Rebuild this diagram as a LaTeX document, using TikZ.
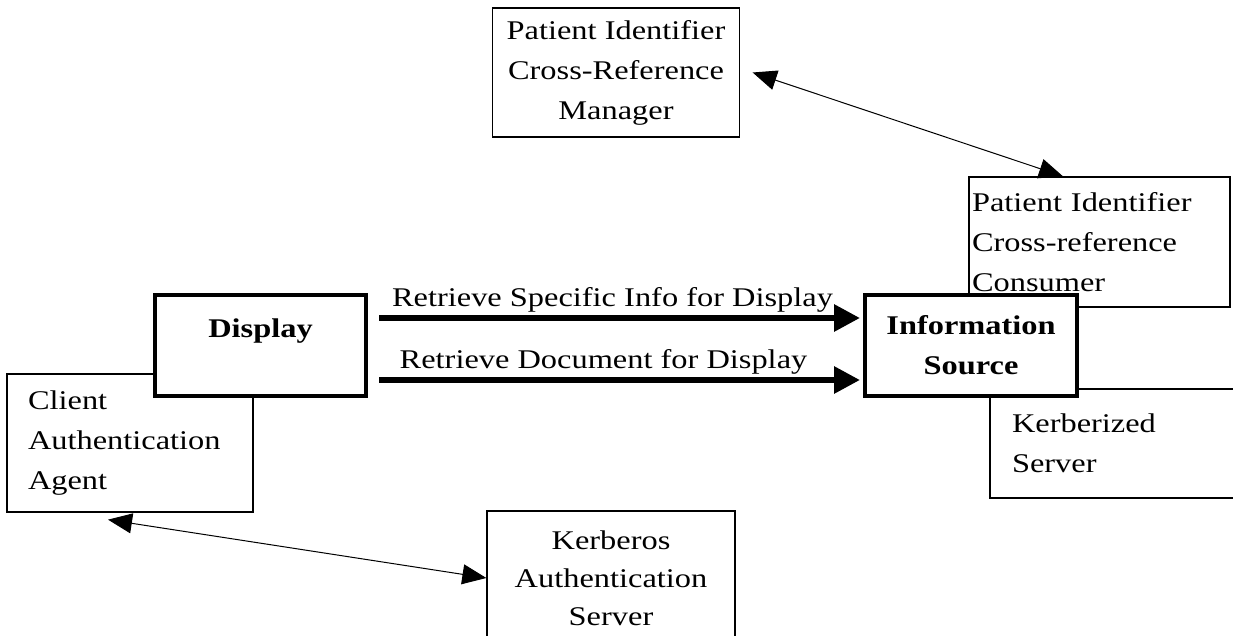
\documentclass[tikz,border=0pt]{standalone}
\usepackage{fontspec}
\setmainfont{Liberation Serif}[FakeStretch=1.2]
\usetikzlibrary{arrows.meta}

\begin{document}
\begin{tikzpicture}[
  x=1pt, y=-1pt,
  every node/.style={font=\fontsize{27}{40}\selectfont},
  box/.style={rectangle, draw=black, line width=1.3pt, fill=white,
              inner sep=0pt},
  cbox/.style={box, align=center},
  lbox/.style={box, align=left},
  mainbox/.style={box, line width=4pt, align=center,
                  font=\fontsize{27}{40}\selectfont\bfseries},
  msg/.style={-{Triangle[length=26pt,width=26pt]}, line width=6pt},
  link/.style={{Triangle[length=24pt,width=20pt]}-{Triangle[length=24pt,width=20pt]},
               line width=1pt},
  lbl/.style={above=3pt, inner sep=0pt},
]

\useasboundingbox (0,0) rectangle (1233,636);

%% ── Cross-reference actors (top) ──────────────────────
\node[cbox, minimum width=247, minimum height=129] (pixm) at (616,72.5)
  {Patient Identifier\\Cross-Reference\\Manager};
\node[lbox, minimum width=261, minimum height=130, text width=255pt] (pixc) at (1099.5,242)
  {Patient Identifier\\Cross-reference\\Consumer};

%% ── Side boxes (drawn first, main boxes sit on top) ───
\node[lbox, minimum width=246, minimum height=138, text width=204pt] (caa) at (130,443)
  {Client\\Authentication\\Agent};
\node[lbox, minimum width=250, minimum height=109, text width=206pt] (kzs) at (1115,443.5)
  {Kerberized\\Server};
\node[cbox, minimum width=248, minimum height=134,
      font=\fontsize{27}{38}\selectfont] (kas) at (611,578)
  {Kerberos\\Authentication\\Server};

%% ── Main actors ───────────────────────────────────────
\node[mainbox, minimum width=211, minimum height=101,
      text height=20pt, text depth=37pt] (disp) at (260.5,345.5) {Display};
\node[mainbox, minimum width=212, minimum height=101] (info) at (971,345.5)
  {Information\\Source};

%% ── Transactions ──────────────────────────────────────
\draw[msg] ([xshift=11pt,yshift=27.5pt]disp.east) -- ([xshift=-3pt,yshift=27.5pt]info.west)
  node[lbl, midway, xshift=-7pt] (rsi) {Retrieve Specific Info for Display};
\draw[msg] ([xshift=11pt,yshift=-34.5pt]disp.east) -- ([xshift=-3pt,yshift=-34.5pt]info.west)
  node[lbl, midway, xshift=-16pt] (rdd) {Retrieve Document for Display};

%% ── Grouped actor links ───────────────────────────────
\draw[link] ([xshift=12.5pt]pixm.east) -- ([xshift=-36.5pt]pixc.north);
\draw[link] ([xshift=-22pt,yshift=-7pt]caa.south) -- (kas.west);

\end{tikzpicture}
\end{document}
